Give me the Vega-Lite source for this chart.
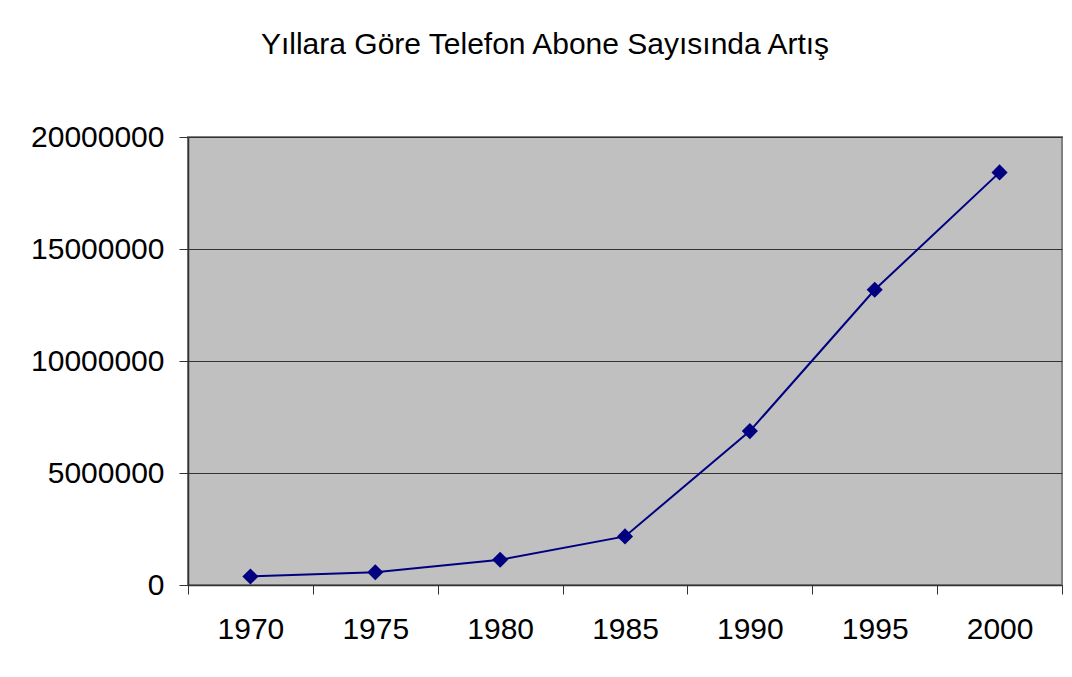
{
  "$schema": "https://vega.github.io/schema/vega-lite/v6.json",
  "autosize": {"type": "none"},
  "padding": {"left": 188, "top": 137, "right": 10, "bottom": 92},
  "width": 874,
  "height": 448,
  "background": "white",
  "title": {
    "text": "Yıllara Göre Telefon Abone Sayısında Artış",
    "font": "Liberation Sans",
    "fontSize": 30,
    "fontWeight": "normal",
    "color": "black",
    "anchor": "middle",
    "dx": -80,
    "offset": 62
  },
  "config": {
    "view": {"fill": "#C0C0C0", "stroke": "#808080", "strokeWidth": 2},
    "axis": {
      "labelFont": "Liberation Sans",
      "labelFontSize": 30,
      "labelColor": "black",
      "domainColor": "#333333",
      "domainWidth": 1.5,
      "tickColor": "#333333",
      "tickWidth": 1,
      "tickSize": 9,
      "title": null
    }
  },
  "data": {
    "values": [
      {"year": "1970", "subscribers": 380000},
      {"year": "1975", "subscribers": 570000},
      {"year": "1980", "subscribers": 1125000},
      {"year": "1985", "subscribers": 2170000},
      {"year": "1990", "subscribers": 6870000},
      {"year": "1995", "subscribers": 13180000},
      {"year": "2000", "subscribers": 18420000}
    ]
  },
  "encoding": {
    "x": {
      "field": "year",
      "type": "ordinal",
      "scale": {"paddingInner": 0, "paddingOuter": 0},
      "axis": {"labelAngle": 0, "tickBand": "extent", "labelPadding": 20, "grid": false}
    },
    "y": {
      "field": "subscribers",
      "type": "quantitative",
      "scale": {"domain": [0, 20000000], "nice": false},
      "axis": {
        "values": [0, 5000000, 10000000, 15000000, 20000000],
        "format": "d",
        "grid": true,
        "gridColor": "#333333",
        "gridWidth": 1,
        "labelPadding": 15
      }
    }
  },
  "layer": [
    {"mark": {"type": "line", "color": "#000080", "strokeWidth": 2}},
    {"mark": {"type": "point", "shape": "diamond", "filled": true, "size": 260, "color": "#000080", "opacity": 1}}
  ]
}
